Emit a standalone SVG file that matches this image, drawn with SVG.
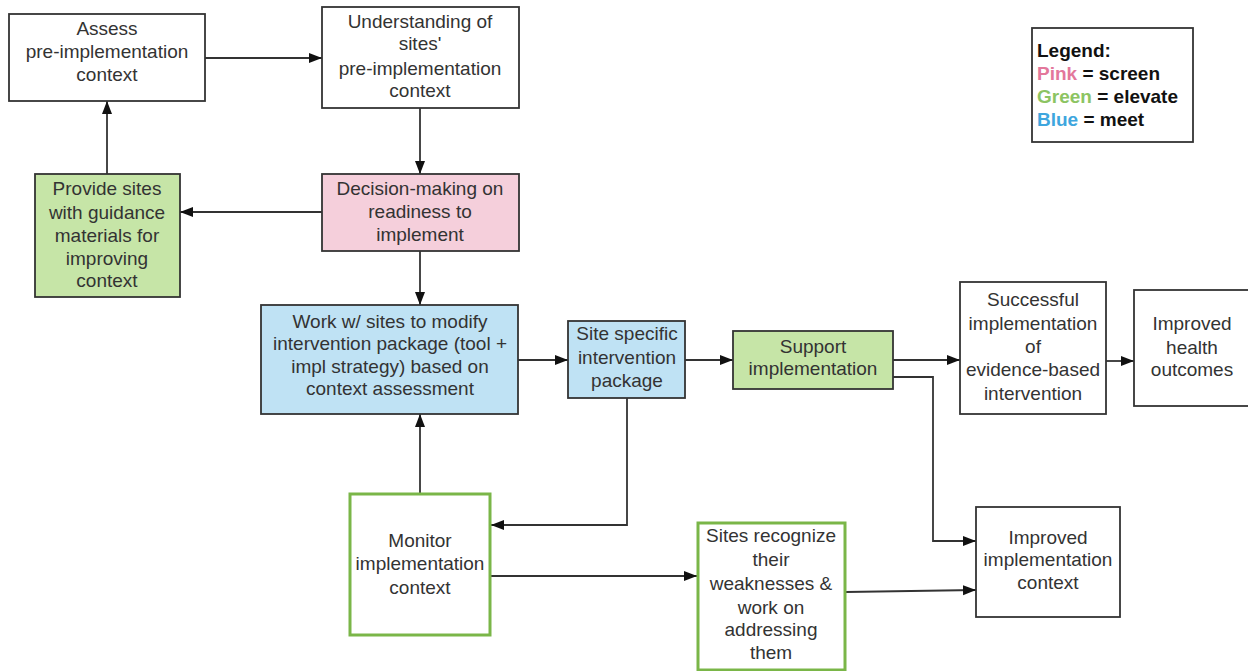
<svg xmlns="http://www.w3.org/2000/svg" width="1248" height="671" viewBox="0 0 1248 671">
<defs>
<style>
.box{fill:#ffffff;stroke:#333333;stroke-width:1.8}
.pink{fill:#f5cfdb}
.green{fill:#c6e5a7}
.blue{fill:#bfe2f4}
.gbox{fill:#ffffff;stroke:#7ab648;stroke-width:3}
.t{font-family:"Liberation Sans",Arial,sans-serif;font-size:19px;fill:#333333;text-anchor:middle}
.lg{font-family:"Liberation Sans",Arial,sans-serif;font-size:19px;font-weight:bold;fill:#111111}
.c{fill:none;stroke:#333333;stroke-width:1.8;marker-end:url(#ah)}
</style>
<marker id="ah" markerUnits="userSpaceOnUse" markerWidth="14" markerHeight="11" refX="13" refY="5" orient="auto">
<path d="M0,0 L13,5 L0,10 z" fill="#111111"/>
</marker>
</defs>
<rect width="1248" height="671" fill="#ffffff"/>

<g id="connectors">
<path class="c" d="M205,58 H322"/>
<path class="c" d="M420,108 V174"/>
<path class="c" d="M322,212 H180"/>
<path class="c" d="M107,174 V101"/>
<path class="c" d="M420,251 V305"/>
<path class="c" d="M518,360 H568"/>
<path class="c" d="M685,360 H733"/>
<path class="c" d="M893,360 H960"/>
<path class="c" d="M1106,361 H1134"/>
<path class="c" d="M893,377 H933 V541 H976"/>
<path class="c" d="M627,398 V525 H491"/>
<path class="c" d="M420,494 V414"/>
<path class="c" d="M490,576 H697"/>
<path class="c" d="M846,592 L976,590"/>
</g>

<g id="assess">
<rect class="box" x="9" y="14" width="196" height="87"/>
<text class="t"><tspan x="107" y="35">Assess</tspan><tspan x="107" y="58">pre-implementation</tspan><tspan x="107" y="81">context</tspan></text>
</g>

<g id="understanding">
<rect class="box" x="322" y="7" width="197" height="101"/>
<text class="t"><tspan x="420" y="28">Understanding of</tspan><tspan x="420" y="50">sites'</tspan><tspan x="420" y="75">pre-implementation</tspan><tspan x="420" y="97">context</tspan></text>
</g>

<g id="provide">
<rect class="box green" x="35" y="174" width="145" height="123"/>
<text class="t"><tspan x="107" y="195">Provide sites</tspan><tspan x="107" y="219">with guidance</tspan><tspan x="107" y="242">materials for</tspan><tspan x="107" y="265">improving</tspan><tspan x="107" y="287">context</tspan></text>
</g>

<g id="decision">
<rect class="box pink" x="322" y="174" width="197" height="77"/>
<text class="t"><tspan x="420" y="195">Decision-making on</tspan><tspan x="420" y="218">readiness to</tspan><tspan x="420" y="241">implement</tspan></text>
</g>

<g id="work">
<rect class="box blue" x="261" y="305" width="257" height="109"/>
<text class="t"><tspan x="390" y="328">Work w/ sites to modify</tspan><tspan x="390" y="350">intervention package (tool +</tspan><tspan x="390" y="373">impl strategy) based on</tspan><tspan x="390" y="395">context assessment</tspan></text>
</g>

<g id="site-specific">
<rect class="box blue" x="568" y="321" width="117" height="77"/>
<text class="t"><tspan x="627" y="340">Site specific</tspan><tspan x="627" y="364">intervention</tspan><tspan x="627" y="387">package</tspan></text>
</g>

<g id="support">
<rect class="box green" x="733" y="331" width="160" height="58"/>
<text class="t"><tspan x="813" y="353">Support</tspan><tspan x="813" y="375">implementation</tspan></text>
</g>

<g id="successful">
<rect class="box" x="960" y="282" width="146" height="132"/>
<text class="t"><tspan x="1033" y="306">Successful</tspan><tspan x="1033" y="330">implementation</tspan><tspan x="1033" y="353">of</tspan><tspan x="1033" y="376">evidence-based</tspan><tspan x="1033" y="400">intervention</tspan></text>
</g>

<g id="health">
<rect class="box" x="1134" y="290" width="118" height="116"/>
<text class="t"><tspan x="1192" y="330">Improved</tspan><tspan x="1192" y="354">health</tspan><tspan x="1192" y="376">outcomes</tspan></text>
</g>

<g id="improved-context">
<rect class="box" x="976" y="507" width="144" height="110"/>
<text class="t"><tspan x="1048" y="544">Improved</tspan><tspan x="1048" y="566">implementation</tspan><tspan x="1048" y="589">context</tspan></text>
</g>

<g id="monitor">
<rect class="gbox" x="350" y="494" width="140" height="141"/>
<text class="t"><tspan x="420" y="547">Monitor</tspan><tspan x="420" y="570">implementation</tspan><tspan x="420" y="594">context</tspan></text>
</g>

<g id="recognize">
<rect class="gbox" x="698" y="523" width="147" height="147"/>
<text class="t"><tspan x="771" y="542">Sites recognize</tspan><tspan x="771" y="566">their</tspan><tspan x="771" y="590">weaknesses &amp;</tspan><tspan x="771" y="614">work on</tspan><tspan x="771" y="636">addressing</tspan><tspan x="771" y="659">them</tspan></text>
</g>

<g id="legend">
<rect class="box" x="1032" y="28" width="161" height="114"/>
<text class="lg" x="1037" y="57">Legend:</text>
<text class="lg" x="1037" y="80"><tspan fill="#e3779b">Pink</tspan> = screen</text>
<text class="lg" x="1037" y="103"><tspan fill="#8cc462">Green</tspan> = elevate</text>
<text class="lg" x="1037" y="126"><tspan fill="#3ea6de">Blue</tspan> = meet</text>
</g>
</svg>
